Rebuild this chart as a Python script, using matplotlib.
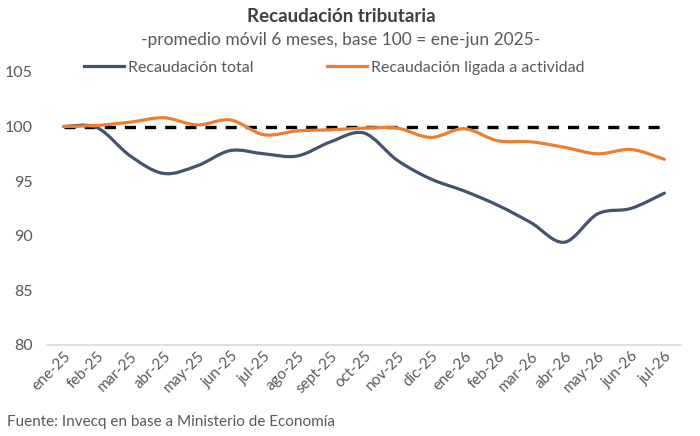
import matplotlib
matplotlib.use("Agg")
import matplotlib.pyplot as plt
from matplotlib.path import Path
from matplotlib.patches import PathPatch
from matplotlib.lines import Line2D

plt.rcParams['font.family'] = ['Lato', 'DejaVu Sans']
plt.rcParams['lines.scale_dashes'] = False

meses = ["ene-25", "feb-25", "mar-25", "abr-25", "may-25", "jun-25", "jul-25",
         "ago-25", "sept-25", "oct-25", "nov-25", "dic-25", "ene-26", "feb-26",
         "mar-26", "abr-26", "may-26", "jun-26", "jul-26"]
total = [100.0, 99.9, 97.3, 95.7, 96.4, 97.8, 97.5, 97.3, 98.6, 99.4, 96.9,
         95.2, 94.1, 92.8, 91.2, 89.4, 92.0, 92.5, 93.9]
actividad = [100.0, 100.1, 100.4, 100.8, 100.15, 100.6, 99.25, 99.6, 99.7,
             99.85, 99.85, 99.0, 99.8, 98.7, 98.6, 98.1, 97.5, 97.9, 97.0]
base = 100

azul = "#44546A"
naranja = "#ED7D31"
gris = "#595959"


def curva_suave(ys):
    # bezier like excel "smoothed line"
    xs = list(range(len(ys)))
    pts = list(zip(xs, ys))
    verts = [pts[0]]
    codes = [Path.MOVETO]
    n = len(pts)
    for i in range(n - 1):
        p0 = pts[i - 1] if i > 0 else pts[i]
        p1 = pts[i]
        p2 = pts[i + 1]
        p3 = pts[i + 2] if i + 2 < n else pts[i + 1]
        c1 = (p1[0] + (p2[0] - p0[0]) / 6, p1[1] + (p2[1] - p0[1]) / 6)
        c2 = (p2[0] - (p3[0] - p1[0]) / 6, p2[1] - (p3[1] - p1[1]) / 6)
        verts += [c1, c2, p2]
        codes += [Path.CURVE4] * 3
    return Path(verts, codes)


fig = plt.figure(figsize=(7, 4.36), dpi=100)
ax = fig.add_axes([0.067, 0.209, 0.906, 0.626])

ax.plot([0, len(meses) - 1], [base, base], color="black", lw=2.4,
        dashes=(8, 6.5), zorder=2)
ax.add_patch(PathPatch(curva_suave(total), fill=False, edgecolor=azul,
                       lw=2.3, capstyle="round", zorder=3))
ax.add_patch(PathPatch(curva_suave(actividad), fill=False, edgecolor=naranja,
                       lw=2.3, capstyle="round", zorder=4))

ax.set_xlim(-0.5, len(meses) - 0.5)
ax.set_ylim(80, 105)
ax.set_yticks([80, 85, 90, 95, 100, 105])
ax.set_xticks(range(len(meses)))
ax.set_xticklabels(meses, rotation=45, ha="right", rotation_mode="anchor",
                   fontsize=11, color=gris)
ax.tick_params(axis="y", labelsize=11.5, labelcolor=gris, length=0, pad=10)
ax.tick_params(axis="x", length=0, pad=3)
for s in ["top", "right", "left"]:
    ax.spines[s].set_visible(False)
ax.spines["bottom"].set_color("#D9D9D9")
ax.spines["bottom"].set_linewidth(1.2)

handles = [Line2D([], [], color=azul, lw=2.3),
           Line2D([], [], color=naranja, lw=2.3)]
ax.legend(handles, ["Recaudación total", "Recaudación ligada a actividad"],
          loc="center left", bbox_to_anchor=(0.036, 1.015), ncol=2,
          frameon=False, fontsize=11.5, handlelength=2.5, handletextpad=0.25,
          columnspacing=4.6, labelcolor=gris)

fig.text(0.487, 0.962, "Recaudación tributaria", ha="center", va="center",
         fontsize=13.5, fontweight="bold", color="#404040")
fig.text(0.487, 0.908, "-promedio móvil 6 meses, base 100 = ene-jun 2025-",
         ha="center", va="center", fontsize=12.5, color=gris)
fig.text(0.01, 0.032, "Fuente: Invecq en base a Ministerio de Economía",
         ha="left", va="center", fontsize=11, color=gris)

fig.savefig("out.png", dpi=100)
